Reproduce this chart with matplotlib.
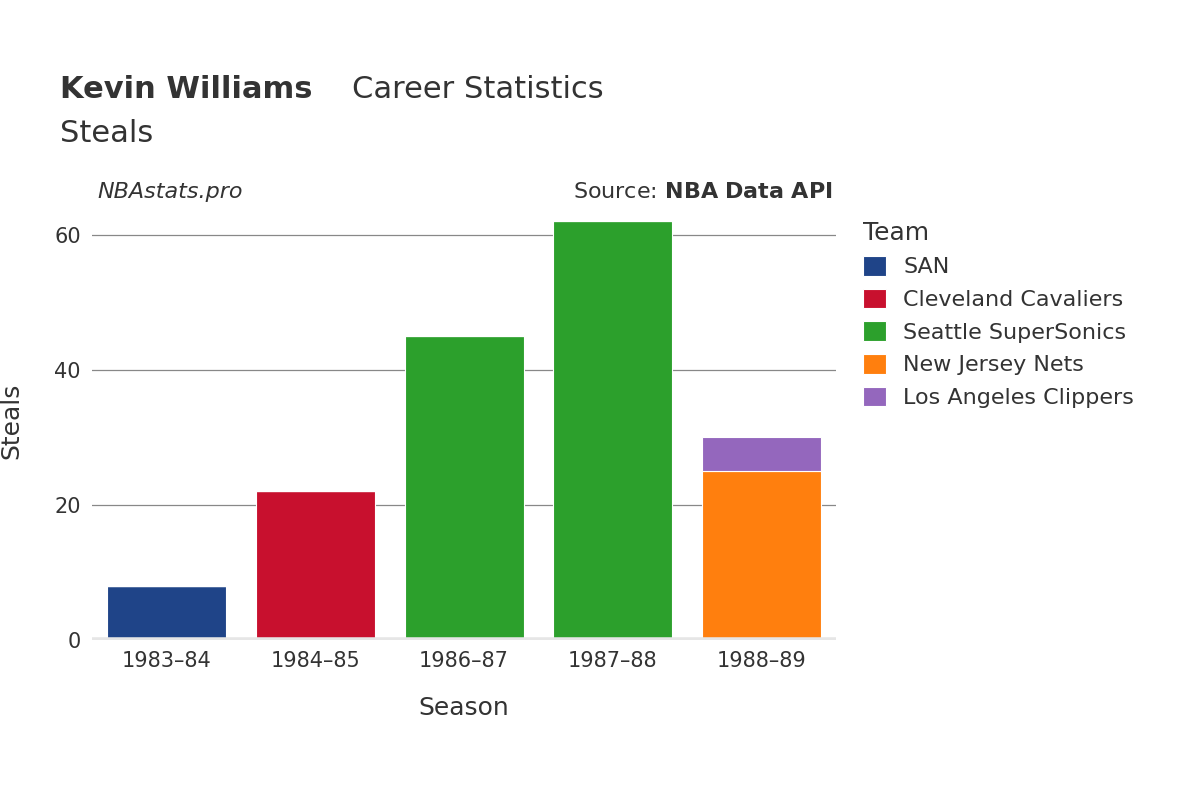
import matplotlib
matplotlib.use("Agg")
import matplotlib.pyplot as plt

seasons = ["1983–84", "1984–85", "1986–87", "1987–88", "1988–89"]
teams = ["SAN", "Cleveland Cavaliers", "Seattle SuperSonics", "New Jersey Nets", "Los Angeles Clippers"]
colors = ["#1f4488", "#c8102e", "#2ca02c", "#ff7f0e", "#9467bd"]
# steals per team per season
values = {
    "SAN": [8, 0, 0, 0, 0],
    "Cleveland Cavaliers": [0, 22, 0, 0, 0],
    "Seattle SuperSonics": [0, 0, 45, 62, 0],
    "New Jersey Nets": [0, 0, 0, 0, 25],
    "Los Angeles Clippers": [0, 0, 0, 0, 5],
}

plt.rcParams["font.family"] = "DejaVu Sans"
fig = plt.figure(figsize=(12, 8), dpi=100)
ax = fig.add_axes([0.0767, 0.2, 0.62, 0.549])
x = list(range(len(seasons)))
bottom = [0] * len(seasons)
for t, c in zip(teams, colors):
    v = values[t]
    ax.bar(x, v, width=0.8, bottom=bottom, color=c, label=t, edgecolor="white", linewidth=0.8, zorder=3)
    bottom = [b + vi for b, vi in zip(bottom, v)]

ax.set_xlim(-0.5, 4.5)
ax.set_ylim(0, 65)
ax.set_yticks([0, 20, 40, 60])
ax.grid(axis="y", color="#888888", linewidth=0.9, zorder=0)
for s in ax.spines.values():
    s.set_visible(False)
ax.axhline(0, color="#e6e6e6", linewidth=4, zorder=4)
ax.set_xticks(x)
ax.set_xticklabels(seasons)
ax.tick_params(axis="both", length=0, labelsize=15, colors="#333333", pad=8)
ax.set_xlabel("Season", fontsize=18, color="#333333", labelpad=18)
ax.set_ylabel("Steals", fontsize=18, color="#333333", labelpad=22)

fig.text(0.05, 0.877, "Kevin Williams", fontsize=22, fontweight="bold", color="#333333")
fig.text(0.293, 0.877, "Career Statistics", fontsize=22, color="#333333")
fig.text(0.05, 0.823, "Steals", fontsize=22, color="#333333")
fig.text(0.081, 0.752, "NBAstats.pro", fontsize=16, style="italic", color="#333333")
fig.text(0.694, 0.752, "Source: $\\bf{NBA\\ Data\\ API}$", fontsize=16, color="#333333", ha="right")

leg = ax.legend(loc="upper left", bbox_to_anchor=(1.01, 1.0), frameon=False, fontsize=16,
                title="Team", title_fontsize=18, handlelength=1.0, handleheight=1.0,
                labelspacing=0.5, borderaxespad=0.5)
leg._legend_box.align = "left"
for txt in leg.get_texts():
    txt.set_color("#333333")
leg.get_title().set_color("#333333")
fig.savefig("out.png")
